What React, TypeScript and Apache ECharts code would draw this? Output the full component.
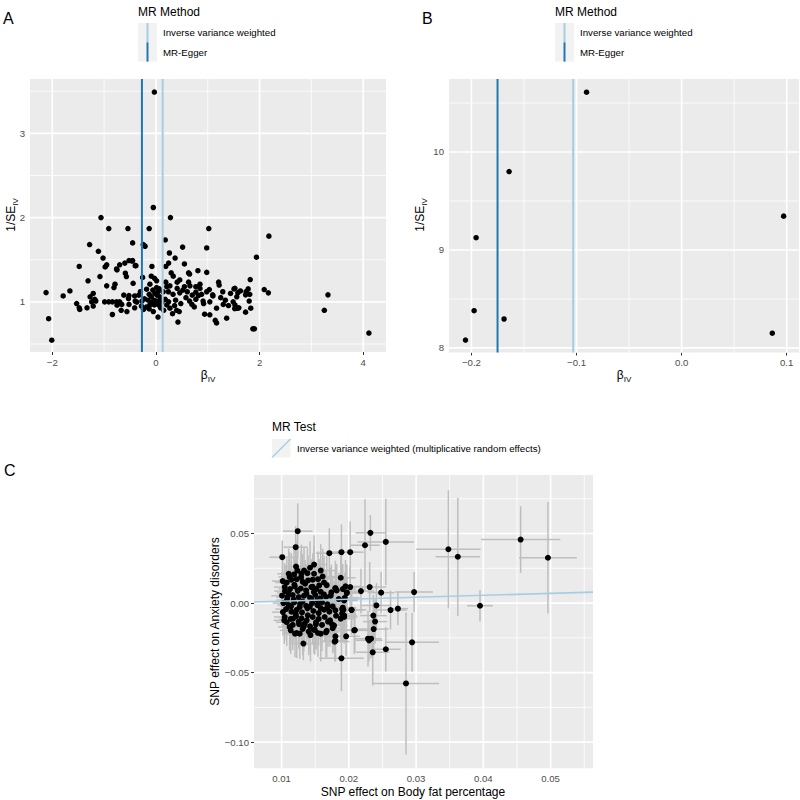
import React, { useEffect, useRef } from "react";
import * as echarts from "echarts";

const FONT = "'Liberation Sans', Arial, Helvetica, sans-serif";
const TICK_COLOR = "#4D4D4D";
const PANEL_BG = "#EBEBEB";
const KEY_BG = "#F2F2F2";

const methods = ["Inverse variance weighted", "MR-Egger"];
const methodColors = ["#A6CEE3", "#1F78B4"];
const testLabel = "Inverse variance weighted (multiplicative random effects)";

// ---------- Panel A: funnel plot (all SNPs) : [beta_IV, 1/SE_IV]
const funnelAll: [number, number][] = [
  [-1.06, 2.0], [-0.91, 1.87], [-0.54, 1.87], [-0.45, 1.7], [-1.28, 1.68], [-1.11, 1.6], [-1.02, 1.52],
  [-1.48, 1.42], [-0.95, 1.44], [-0.98, 1.415], [-0.75, 1.38], [-0.7, 1.44], [-0.6, 1.46], [-0.52, 1.49],
  [-0.45, 1.49], [-0.4, 1.43], [-0.76, 1.39], [-0.59, 1.34], [-0.57, 1.3], [-1.08, 1.3], [-1.31, 1.25],
  [-0.44, 1.22], [-0.95, 1.19], [-0.79, 1.21], [-0.81, 1.17], [-2.12, 1.11], [-1.66, 1.13], [-1.79, 1.07],
  [-1.21, 1.1], [-1.27, 1.06], [-1.18, 1.03], [-1.24, 1.0], [-1.16, 1.01], [-1.53, 0.98], [-1.48, 0.93],
  [-1.47, 0.91], [-1.33, 0.93], [-1.21, 0.95], [-0.99, 1.0], [-0.91, 1.0], [-0.84, 1.0], [-0.76, 1.0],
  [-0.7, 1.0], [-0.75, 0.96], [-0.67, 0.9], [-0.56, 0.885], [-0.84, 0.85], [-0.52, 0.97], [-0.52, 1.075],
  [-0.53, 1.04], [-0.4, 1.01], [-0.41, 0.93], [-2.07, 0.8], [-2.01, 0.545],
  [-0.03, 3.49], [-0.05, 2.12], [0.28, 2.0], [1.02, 1.87], [-0.13, 1.87], [0.18, 1.735], [-0.245, 1.68],
  [-0.21, 1.66], [0.515, 1.65], [0.98, 1.64], [0.26, 1.58], [0.37, 1.52], [-0.46, 1.485], [-0.386, 1.43],
  [-0.077, 1.42], [0.19, 1.42], [0.55, 1.45], [0.245, 1.46], [0.295, 1.344], [0.334, 1.305], [0.63, 1.344],
  [0.65, 1.33], [0.81, 1.37], [0.98, 1.35], [-0.257, 1.29], [-0.09, 1.305], [-0.026, 1.28], [0.013, 1.25],
  [0.41, 1.234], [0.46, 1.26], [0.19, 1.234], [0.63, 1.234], [0.656, 1.19], [0.85, 1.21], [1.21, 1.234],
  [1.22, 1.2], [0.27, 1.19], [0.41, 1.16], [0.064, 1.154], [-0.116, 1.21], [0.013, 1.17], [0.04, 1.12],
  [0.21, 1.18], [0.55, 1.18], [0.605, 1.12], [0.77, 1.115], [0.98, 1.12], [1.03, 1.146], [1.095, 1.083],
  [1.29, 1.12], [1.506, 1.154], [1.58, 1.107], [1.34, 1.02], [1.4, 0.956], [1.56, 0.925], [-0.41, 1.07],
  [-0.33, 1.08], [-0.27, 1.01], [-0.37, 0.997], [-0.22, 1.036], [-0.13, 1.09], [-0.09, 1.06], [-0.04, 1.02],
  [0.013, 1.01], [0.05, 1.0], [-0.03, 0.964], [-0.116, 0.964], [-0.18, 0.94], [-0.13, 0.917], [-0.05, 0.885],
  [0.04, 0.82], [0.116, 0.997], [0.21, 0.964], [0.245, 1.0], [0.18, 1.03], [0.27, 0.925], [0.36, 0.956],
  [0.32, 0.86], [0.45, 0.885], [0.425, 0.76], [0.65, 1.01], [0.695, 0.97], [0.77, 1.03], [0.82, 1.075],
  [0.91, 1.01], [0.94, 0.854], [1.04, 0.846], [1.145, 0.78], [1.17, 0.75], [1.365, 0.806], [1.17, 0.925],
  [1.04, 1.0], [1.49, 1.0], [1.52, 0.92], [1.6, 0.93], [0.46, 1.107], [0.077, 1.06], [0.14, 1.12],
  [0.77, 1.18], [0.85, 1.16],
  [2.18, 1.78], [1.94, 1.53], [1.82, 1.265], [2.09, 1.146], [2.17, 1.107], [3.32, 1.083], [3.25, 0.9],
  [4.11, 0.63], [1.87, 0.68], [1.9, 0.68], [1.525, 1.16], [1.63, 1.13], [1.74, 1.12], [1.78, 1.154],
  [1.81, 1.09], [1.73, 1.083], [1.56, 1.06], [1.8, 1.01], [1.525, 0.964], [1.577, 0.925], [1.83, 0.925],
  [1.73, 0.878],
  [-0.3, 1.12], [-0.18, 1.15], [-0.06, 1.14], [0.02, 1.08], [0.09, 0.93], [-0.24, 0.91], [-0.02, 1.1],
  [0.1, 1.04], [-0.15, 1.02], [-0.08, 0.99], [0.06, 0.96], [0.15, 0.9], [0.33, 1.09], [0.38, 1.02],
  [0.48, 0.98], [0.52, 1.14], [0.58, 1.05], [0.7, 1.08], [0.74, 0.94], [0.88, 1.09], [0.92, 0.98],
  [1.1, 1.07], [1.25, 1.05], [1.3, 0.97], [-0.62, 1.08], [-0.66, 0.97], [-0.28, 0.95], [0.24, 1.12],
  [0.4, 0.9], [1.44, 1.1],
];
const methodBetaA = [0.13, -0.27]; // IVW, MR-Egger
const aXRange = [-2.43, 4.44];
const aYRange = [0.405, 3.645];
const aXTicks = [-2, 0, 2, 4];
const aXMinor = [-1, 1, 3];
const aYTicks = [1, 2, 3];
const aYMinor = [0.5, 1.5, 2.5, 3.5];

// ---------- Panel B: funnel plot (subset)
const funnelSub: [number, number][] = [
  [-0.0905, 10.61], [-0.1642, 9.8], [-0.1956, 9.125], [-0.1975, 8.38],
  [-0.2057, 8.08], [-0.169, 8.295], [0.0971, 9.345], [0.0863, 8.15],
];
const methodBetaB = [-0.1032, -0.1752];
const bXRange = [-0.2214, 0.1117];
const bYRange = [7.953, 10.745];
const bXTicks = [-0.2, -0.1, 0.0, 0.1];
const bXMinor = [-0.15, -0.05, 0.05];
const bYTicks = [8, 9, 10];
const bYMinor = [8.5, 9.5, 10.5];

// ---------- Panel C: scatter [exposure beta, outcome beta, exposure se, outcome se]
const snpEffects: [number, number, number, number][] = [
  [0.04554, 0.0457, 0.0059, 0.024], [0.0496, 0.0326, 0.0043, 0.04], [0.0348, 0.0387, 0.0048, 0.0425],
  [0.0362, 0.0333, 0.0033, 0.0425], [0.0395, -0.0019, 0.0019, 0.0113], [0.0297, 0.0079, 0.0028, 0.0144],
  [0.0294, -0.0282, 0.004, 0.021], [0.0255, 0.044, 0.0042, 0.031], [0.0232, 0.0505, 0.0022, 0.0128],
  [0.0224, 0.0416, 0.0022, 0.033], [0.0124, 0.0517, 0.0022, 0.02], [0.0121, 0.0402, 0.0018, 0.015],
  [0.0101, 0.033, 0.0019, 0.012], [0.0171, 0.0359, 0.002, 0.018], [0.0189, 0.0366, 0.0022, 0.02],
  [0.0202, 0.0366, 0.002, 0.022], [0.0218, 0.0086, 0.002, 0.016], [0.0231, 0.0115, 0.0025, 0.018],
  [0.0248, 0.0075, 0.002, 0.015], [0.0241, -0.0017, 0.0022, 0.016], [0.0262, -0.005, 0.0024, 0.014],
  [0.0273, -0.004, 0.0015, 0.012], [0.02364, -0.009, 0.002, 0.015], [0.0239, -0.0133, 0.0018, 0.016],
  [0.0237, -0.0187, 0.0022, 0.018], [0.0209, -0.0194, 0.0024, 0.016], [0.02285, -0.0256, 0.002, 0.02],
  [0.0233, -0.0256, 0.0016, 0.014], [0.02355, -0.0354, 0.0025, 0.024], [0.0255, -0.0332, 0.0022, 0.016],
  [0.0189, -0.0397, 0.0033, 0.0237], [0.0196, -0.0239, 0.002, 0.014], [0.0204, -0.005, 0.0018, 0.013],
  [0.0202, 0.0115, 0.002, 0.015], [0.0188, 0.0182, 0.0022, 0.016], [0.018, 0.0108, 0.0018, 0.014],
  [0.0193, 0.0024, 0.002, 0.015], [0.0197, 0.0072, 0.0018, 0.012], [0.019, -0.0043, 0.002, 0.014],
  [0.0193, -0.009, 0.0019, 0.013], [0.0188, -0.0112, 0.0021, 0.015], [0.018, -0.0239, 0.002, 0.016],
  [0.018, -0.0272, 0.0018, 0.015], [0.0175, -0.0153, 0.002, 0.014], [0.0285, -0.0578, 0.0049, 0.051],
  [0.01324, -0.0291, 0.002, 0.012], [0.0179, -0.0277, 0.0022, 0.014], [0.023, -0.0268, 0.002, 0.015],
  [0.012, -0.022, 0.0016, 0.017], [0.0127, -0.022, 0.0018, 0.018], [0.0143, -0.023, 0.0017, 0.019],
  [0.0154, -0.0215, 0.002, 0.017], [0.0166, -0.021, 0.0019, 0.018], [0.0104, -0.0124, 0.0016, 0.017],
  [0.0112, -0.0172, 0.0017, 0.017], [0.0192, -0.0048, 0.0018, 0.017], [0.0192, -0.009, 0.002, 0.019],
  [0.01215, 0.0263, 0.0018, 0.019], [0.01483, 0.0277, 0.002, 0.021], [0.01106, 0.0211, 0.0017, 0.018],
  [0.01235, 0.0234, 0.0019, 0.02], [0.01334, 0.0234, 0.0018, 0.017], [0.01423, 0.0254, 0.002, 0.019],
  [0.01186, 0.0206, 0.0016, 0.018], [0.01295, 0.0211, 0.0019, 0.021], [0.01384, 0.0215, 0.0018, 0.018],
  [0.01483, 0.0211, 0.002, 0.02], [0.01582, 0.0234, 0.0021, 0.019], [0.01611, 0.0191, 0.0019, 0.02],
  [0.01017, 0.0158, 0.0016, 0.017], [0.01077, 0.0148, 0.0017, 0.018], [0.01146, 0.0168, 0.0018, 0.019],
  [0.01225, 0.0172, 0.0017, 0.017], [0.01314, 0.0153, 0.0019, 0.02], [0.01394, 0.0163, 0.0018, 0.018],
  [0.01463, 0.0168, 0.002, 0.019], [0.01542, 0.0172, 0.0019, 0.02], [0.01631, 0.0148, 0.002, 0.019],
  [0.01671, 0.0129, 0.0021, 0.021], [0.018, 0.0105, 0.002, 0.02], [0.0195, 0.012, 0.0022, 0.019],
  [0.01047, 0.0115, 0.0016, 0.017], [0.01126, 0.0101, 0.0017, 0.018], [0.01196, 0.012, 0.0018, 0.017],
  [0.01285, 0.0105, 0.0018, 0.019], [0.01364, 0.0091, 0.0019, 0.018], [0.01443, 0.0115, 0.0018, 0.02],
  [0.01512, 0.0101, 0.002, 0.019], [0.01582, 0.0081, 0.0019, 0.018], [0.0174, 0.0077, 0.002, 0.02],
  [0.0182, 0.0091, 0.0021, 0.019], [0.0191, 0.0101, 0.002, 0.018], [0.0197, 0.0077, 0.0022, 0.02],
  [0.01007, 0.0053, 0.0016, 0.017], [0.01087, 0.0043, 0.0017, 0.018], [0.01166, 0.0058, 0.0018, 0.019],
  [0.01255, 0.0043, 0.0017, 0.017], [0.01334, 0.0053, 0.0019, 0.018], [0.01423, 0.0038, 0.0018, 0.02],
  [0.01502, 0.0058, 0.002, 0.019], [0.01572, 0.0034, 0.0019, 0.018], [0.01661, 0.0043, 0.002, 0.019],
  [0.0173, 0.0053, 0.0021, 0.02], [0.0185, 0.0029, 0.002, 0.019], [0.0194, 0.0038, 0.0022, 0.018],
  [0.01027, 0.0, 0.0016, 0.017], [0.01106, -0.0014, 0.0017, 0.018], [0.01186, 0.0005, 0.0018, 0.019],
  [0.01275, -0.0005, 0.0017, 0.017], [0.01364, -0.0019, 0.0019, 0.018], [0.01453, 0.0, 0.0018, 0.02],
  [0.01532, -0.0014, 0.002, 0.019], [0.01601, 0.0005, 0.0019, 0.018], [0.01681, -0.0009, 0.002, 0.019],
  [0.0176, -0.0024, 0.0021, 0.02], [0.0191, -0.0033, 0.002, 0.019], [0.0204, -0.0048, 0.0022, 0.018],
  [0.0193, 0.0019, 0.002, 0.017], [0.01067, -0.0043, 0.0016, 0.017], [0.01146, -0.0062, 0.0017, 0.018],
  [0.01225, -0.0048, 0.0018, 0.019], [0.01304, -0.0067, 0.0017, 0.017], [0.01384, -0.0038, 0.0019, 0.018],
  [0.01473, -0.0057, 0.0018, 0.02], [0.01552, -0.0072, 0.002, 0.019], [0.01631, -0.0048, 0.0019, 0.018],
  [0.0171, -0.0062, 0.002, 0.019], [0.018, -0.0052, 0.0021, 0.02], [0.019, -0.0076, 0.002, 0.019],
  [0.01047, -0.01, 0.0016, 0.017], [0.01136, -0.0114, 0.0017, 0.018], [0.01215, -0.0095, 0.0018, 0.019],
  [0.01295, -0.011, 0.0017, 0.017], [0.01374, -0.0124, 0.0019, 0.018], [0.01463, -0.01, 0.0018, 0.02],
  [0.01552, -0.0114, 0.002, 0.019], [0.01641, -0.01, 0.0019, 0.018], [0.0172, -0.0124, 0.002, 0.019],
  [0.0181, -0.0091, 0.0021, 0.02], [0.0193, -0.01, 0.002, 0.019], [0.01077, -0.0138, 0.0016, 0.017],
  [0.01166, -0.0157, 0.0017, 0.018], [0.01255, -0.0134, 0.0018, 0.019], [0.01344, -0.0148, 0.0017, 0.017],
  [0.01423, -0.0167, 0.0019, 0.018], [0.01512, -0.0138, 0.0018, 0.02], [0.01601, -0.0157, 0.002, 0.019],
  [0.01691, -0.0134, 0.0019, 0.018], [0.0178, -0.0162, 0.002, 0.019], [0.0208, -0.0196, 0.0021, 0.017],
  [0.01136, -0.0196, 0.0016, 0.017], [0.01225, -0.0215, 0.0017, 0.018], [0.01314, -0.0186, 0.0018, 0.019],
  [0.01403, -0.0205, 0.0017, 0.017], [0.01493, -0.0191, 0.0019, 0.018], [0.01582, -0.022, 0.0018, 0.02],
  [0.01671, -0.02, 0.002, 0.019], [0.0176, -0.0181, 0.0019, 0.018],
  [0.011, 0.0072, 0.0017, 0.018], [0.0118, 0.0025, 0.0018, 0.017], [0.0124, 0.0088, 0.0017, 0.019],
  [0.0131, 0.0012, 0.0019, 0.018], [0.0137, 0.0066, 0.0018, 0.017], [0.0142, -0.0026, 0.0019, 0.019],
  [0.0148, 0.0079, 0.002, 0.018], [0.0153, 0.0021, 0.0019, 0.02], [0.0127, -0.0028, 0.0018, 0.017],
  [0.0114, -0.0024, 0.0017, 0.018], [0.0119, 0.0131, 0.0017, 0.019], [0.0135, 0.0139, 0.0018, 0.017],
  [0.0146, 0.0118, 0.0019, 0.018], [0.0158, -0.0036, 0.002, 0.019], [0.0121, -0.0078, 0.0017, 0.018],
  [0.0139, -0.0088, 0.0018, 0.017], [0.0105, 0.0086, 0.0016, 0.018], [0.0102, -0.0065, 0.0016, 0.017],
  [0.0163, 0.0062, 0.002, 0.019], [0.0168, -0.0031, 0.002, 0.018], [0.0129, 0.0186, 0.0018, 0.019],
  [0.0112, 0.0188, 0.0017, 0.018], [0.0151, -0.0153, 0.0019, 0.017], [0.0133, -0.0168, 0.0018, 0.018],
  [0.0117, -0.0112, 0.0017, 0.017], [0.0144, 0.0031, 0.0018, 0.018], [0.0156, 0.0127, 0.0019, 0.019],
  [0.0108, 0.0022, 0.0016, 0.017], [0.0126, -0.0152, 0.0018, 0.018], [0.0148, -0.0192, 0.0019, 0.017],
];
const ivwSlope = 0.14;
const cXRange = [0.0059, 0.0563];
const cYRange = [-0.1188, 0.0921];
const cXTicks = [0.01, 0.02, 0.03, 0.04, 0.05];
const cXMinor = [0.015, 0.025, 0.035, 0.045, 0.055];
const cYTicks = [-0.1, -0.05, 0.0, 0.05];
const cYMinor = [-0.075, -0.025, 0.025, 0.075];

const minus = (s: string) => s.replace("-", "\u2212");

function axisPair(idx: number, xr: number[], yr: number[], xt: number[], yt: number[], fx: (v: number) => string, fy: (v: number) => string) {
  const lbl = { color: TICK_COLOR, fontSize: 9.6, fontFamily: FONT, margin: 5 };
  const tick = { show: true, length: 3, lineStyle: { color: "#333333", width: 1 } };
  return {
    x: {
      type: "value", gridIndex: idx, min: xr[0], max: xr[1],
      axisLine: { show: false }, splitLine: { show: false },
      axisTick: { ...tick, customValues: xt },
      axisLabel: { ...lbl, customValues: xt, formatter: (v: number) => fx(v) },
    },
    y: {
      type: "value", gridIndex: idx, min: yr[0], max: yr[1],
      axisLine: { show: false }, splitLine: { show: false },
      axisTick: { ...tick, customValues: yt },
      axisLabel: { ...lbl, customValues: yt, formatter: (v: number) => fy(v) },
    },
  };
}

// panel background + gridlines, drawn by one custom item placed at the panel centre
function panelSeries(idx: number, xr: number[], yr: number[], xMaj: number[], xMin: number[], yMaj: number[], yMin: number[]) {
  return {
    type: "custom", xAxisIndex: idx, yAxisIndex: idx, z: 1, silent: true, clip: false,
    data: [[(xr[0] + xr[1]) / 2, (yr[0] + yr[1]) / 2]],
    renderItem: (_p: any, api: any) => {
      const tl = api.coord([xr[0], yr[1]]);
      const br = api.coord([xr[1], yr[0]]);
      const children: any[] = [
        { type: "rect", shape: { x: tl[0], y: tl[1], width: br[0] - tl[0], height: br[1] - tl[1] }, style: { fill: PANEL_BG } },
      ];
      const vline = (v: number, w: number) => {
        const px = api.coord([v, yr[0]])[0];
        children.push({ type: "line", shape: { x1: px, y1: tl[1], x2: px, y2: br[1] }, style: { stroke: "#FFFFFF", lineWidth: w } });
      };
      const hline = (v: number, w: number) => {
        const py = api.coord([xr[0], v])[1];
        children.push({ type: "line", shape: { x1: tl[0], y1: py, x2: br[0], y2: py }, style: { stroke: "#FFFFFF", lineWidth: w } });
      };
      xMin.forEach((v) => vline(v, 0.8));
      yMin.forEach((v) => hline(v, 0.8));
      xMaj.forEach((v) => vline(v, 1.6));
      yMaj.forEach((v) => hline(v, 1.6));
      return { type: "group", children };
    },
  };
}

function vlineSeries(idx: number, yr: number[], betas: number[]) {
  return {
    type: "custom", xAxisIndex: idx, yAxisIndex: idx, z: 4, silent: true, clip: false,
    data: betas.map((b, i) => [b, (yr[0] + yr[1]) / 2, i]),
    renderItem: (_p: any, api: any) => {
      const v = api.value(0), i = api.value(2);
      const a = api.coord([v, yr[0]]), b = api.coord([v, yr[1]]);
      return { type: "line", shape: { x1: a[0], y1: a[1], x2: b[0], y2: b[1] }, style: { stroke: methodColors[i], lineWidth: 2 } };
    },
  };
}

function methodLegend(ox: number) {
  const items: any[] = [
    { type: "text", x: ox, y: 12, style: { text: "MR Method", fontSize: 12, fontFamily: FONT, fill: "#000", align: "left", verticalAlign: "middle", textAlign: "left", textVerticalAlign: "middle" } },
  ];
  methods.forEach((m, i) => {
    const top = 23 + i * 19.3;
    items.push({ type: "rect", shape: { x: ox, y: top, width: 19, height: 19.3 }, style: { fill: KEY_BG } });
    items.push({ type: "line", shape: { x1: ox + 9.5, y1: top, x2: ox + 9.5, y2: top + 19.3 }, style: { stroke: methodColors[i], lineWidth: 2 } });
    items.push({ type: "text", x: ox + 25, y: top + 9.8, style: { text: m, fontSize: 9.7, fontFamily: FONT, fill: "#000", align: "left", verticalAlign: "middle", textAlign: "left", textVerticalAlign: "middle" } });
  });
  return items;
}

const subRich = {
  m: { fontSize: 12, fontFamily: FONT, fill: "#000", color: "#000", verticalAlign: "bottom", padding: [0, 0, 3, 0] },
  s: { fontSize: 8, fontFamily: FONT, fill: "#000", color: "#000", verticalAlign: "bottom" },
};

function title(x: number, y: number, text: string, rotate: boolean, rich?: any) {
  return {
    type: "text", x, y, rotation: rotate ? Math.PI / 2 : 0,
    style: { text, rich, fontSize: 12, fontFamily: FONT, fill: "#000", align: "center", verticalAlign: "middle", textAlign: "center", textVerticalAlign: "middle" },
  };
}

function panelLabel(x: number, y: number, t: string) {
  return { type: "text", x, y, style: { text: t, fontSize: 16, fontFamily: FONT, fill: "#000", align: "left", verticalAlign: "middle", textAlign: "left", textVerticalAlign: "middle" } };
}

const pointStyle = { color: "#000000", opacity: 1 };

export default function App() {
  const ref = useRef<HTMLDivElement>(null);
  useEffect(() => {
    document.body.style.margin = "0";
    if (!ref.current) return;
    const chart = echarts.init(ref.current, undefined, { renderer: "svg" });
    const fmtInt = (v: number) => minus(String(Math.round(v)));
    const A = axisPair(0, aXRange, aYRange, aXTicks, aYTicks, fmtInt, fmtInt);
    const B = axisPair(1, bXRange, bYRange, bXTicks, bYTicks, (v) => minus(v.toFixed(1)), fmtInt);
    const C = axisPair(2, cXRange, cYRange, cXTicks, cYTicks, (v) => v.toFixed(2), (v) => minus(v.toFixed(2)));
    const gridBase = { show: false };
    const option: any = {
      animation: false,
      textStyle: { fontFamily: FONT },
      grid: [
        { ...gridBase, left: 30, top: 79, width: 356, height: 273 },
        { ...gridBase, left: 449, top: 79, width: 350, height: 273.5 },
        { ...gridBase, left: 254, top: 475, width: 339, height: 293.3 },
      ],
      xAxis: [A.x, B.x, C.x],
      yAxis: [A.y, B.y, C.y],
      series: [
        panelSeries(0, aXRange, aYRange, aXTicks, aXMinor, aYTicks, aYMinor),
        panelSeries(1, bXRange, bYRange, bXTicks, bXMinor, bYTicks, bYMinor),
        panelSeries(2, cXRange, cYRange, cXTicks, cXMinor, cYTicks, cYMinor),
        { type: "scatter", xAxisIndex: 0, yAxisIndex: 0, data: funnelAll, symbolSize: 5.5, itemStyle: pointStyle, z: 3, silent: true },
        { type: "scatter", xAxisIndex: 1, yAxisIndex: 1, data: funnelSub, symbolSize: 5.5, itemStyle: pointStyle, z: 3, silent: true },
        vlineSeries(0, aYRange, methodBetaA),
        vlineSeries(1, bYRange, methodBetaB),
        {
          type: "custom", xAxisIndex: 2, yAxisIndex: 2, z: 2, clip: true, silent: true,
          data: snpEffects,
          encode: { x: 0, y: 1 },
          renderItem: (_p: any, api: any) => {
            const x = api.value(0), y = api.value(1), sx = api.value(2), sy = api.value(3);
            const a = api.coord([x - sx, y]), b = api.coord([x + sx, y]);
            const c = api.coord([x, y - sy]), d = api.coord([x, y + sy]);
            const st = { stroke: "#BEBEBE", lineWidth: 1.5 };
            return {
              type: "group",
              children: [
                { type: "line", shape: { x1: a[0], y1: a[1], x2: b[0], y2: b[1] }, style: st },
                { type: "line", shape: { x1: c[0], y1: c[1], x2: d[0], y2: d[1] }, style: st },
              ],
            };
          },
        },
        { type: "scatter", xAxisIndex: 2, yAxisIndex: 2, data: snpEffects.map((d) => [d[0], d[1]]), symbolSize: 6, itemStyle: pointStyle, z: 3, silent: true },
        {
          type: "line", xAxisIndex: 2, yAxisIndex: 2, z: 4, silent: true, showSymbol: false, symbol: "none",
          data: [[cXRange[0], ivwSlope * cXRange[0]], [cXRange[1], ivwSlope * cXRange[1]]],
          lineStyle: { color: methodColors[0], width: 1.6 },
        },
      ],
      graphic: [
        panelLabel(3, 18, "A"),
        panelLabel(422, 18, "B"),
        panelLabel(4, 470, "C"),
        ...methodLegend(138),
        ...methodLegend(555),
        { type: "text", x: 272, y: 427, style: { text: "MR Test", fontSize: 12, fontFamily: FONT, fill: "#000", align: "left", verticalAlign: "middle", textAlign: "left", textVerticalAlign: "middle" } },
        { type: "rect", shape: { x: 272, y: 439, width: 18.5, height: 18.5 }, style: { fill: KEY_BG } },
        { type: "line", shape: { x1: 272, y1: 457.5, x2: 290.5, y2: 439 }, style: { stroke: methodColors[0], lineWidth: 1.5 } },
        { type: "text", x: 297, y: 448.3, style: { text: testLabel, fontSize: 9.7, fontFamily: FONT, fill: "#000", align: "left", verticalAlign: "middle", textAlign: "left", textVerticalAlign: "middle" } },
        title(12, 215, "{m|1/SE}{s|IV}", true, subRich),
        title(208, 376, "{m|\u03b2}{s|IV}", false, subRich),
        title(421, 215, "{m|1/SE}{s|IV}", true, subRich),
        title(624, 376, "{m|\u03b2}{s|IV}", false, subRich),
        title(215, 621.5, "SNP effect on Anxiety disorders", true),
        title(413, 791.5, "SNP effect on Body fat percentage", false),
      ],
    };
    chart.setOption(option);
    return () => chart.dispose();
  }, []);
  return <div ref={ref} style={{ position: "absolute", left: 0, top: 0, width: 800, height: 800 }} />;
}
